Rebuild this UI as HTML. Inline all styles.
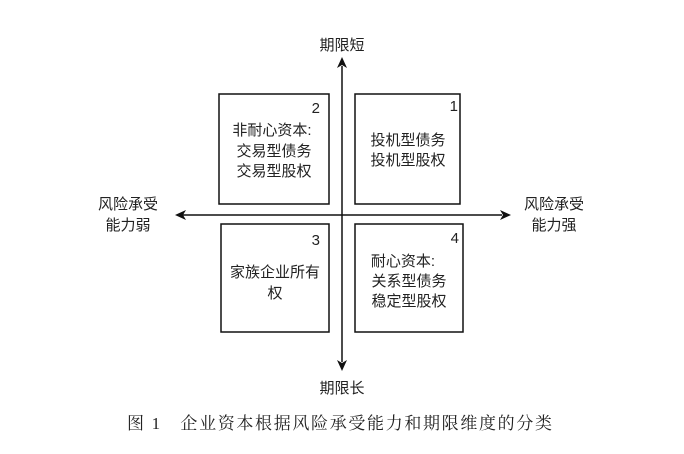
<!DOCTYPE html>
<html><head><meta charset="utf-8"><style>
html,body{margin:0;padding:0;background:#fff;}
svg{display:block;}
.t{font-family:"Liberation Sans","Noto Sans CJK SC",sans-serif;font-size:15px;fill:#222;}
.c{font-family:"Liberation Serif","Noto Serif CJK SC",serif;font-size:17px;fill:#222;}
</style></head><body>
<svg width="684" height="454" viewBox="0 0 684 454" xmlns="http://www.w3.org/2000/svg">
<g stroke="#111" stroke-width="1.5" fill="none">
<line x1="342" y1="66" x2="342" y2="362"/>
<line x1="183" y1="215" x2="502" y2="215"/>
<rect x="219" y="94" width="110" height="110"/>
<rect x="355" y="94" width="105" height="110"/>
<rect x="221" y="224" width="108" height="108"/>
<rect x="355" y="224" width="108" height="108"/>
</g>
<g fill="#111">
<polygon points="342,57 337,68 342,65 347,68"/>
<polygon points="342,371 337,360 342,363 347,360"/>
<polygon points="175,215 186,210 183,215 186,220"/>
<polygon points="511,215 500,210 503,215 500,220"/>
</g>
<g class="t" text-anchor="middle">
<text x="342" y="50">期限短</text>
<text x="342" y="393">期限长</text>
<text x="128" y="209">风险承受</text>
<text x="128" y="230">能力弱</text>
<text x="554" y="209">风险承受</text>
<text x="554" y="230">能力强</text>
<text x="320" y="113" text-anchor="end">2</text>
<text x="272" y="135">非耐心资本:</text>
<text x="274" y="156">交易型债务</text>
<text x="274" y="176">交易型股权</text>
<text x="458" y="111" text-anchor="end">1</text>
<text x="408" y="145">投机型债务</text>
<text x="408" y="165">投机型股权</text>
<text x="320" y="245" text-anchor="end">3</text>
<text x="275" y="277">家族企业所有</text>
<text x="275" y="298">权</text>
<text x="459" y="243" text-anchor="end">4</text>
<text x="403" y="266">耐心资本:</text>
<text x="409" y="286">关系型债务</text>
<text x="409" y="306">稳定型股权</text>
</g>
<text class="c" x="127" y="429" textLength="425" lengthAdjust="spacing">图 1　企业资本根据风险承受能力和期限维度的分类</text>
</svg>
</body></html>
